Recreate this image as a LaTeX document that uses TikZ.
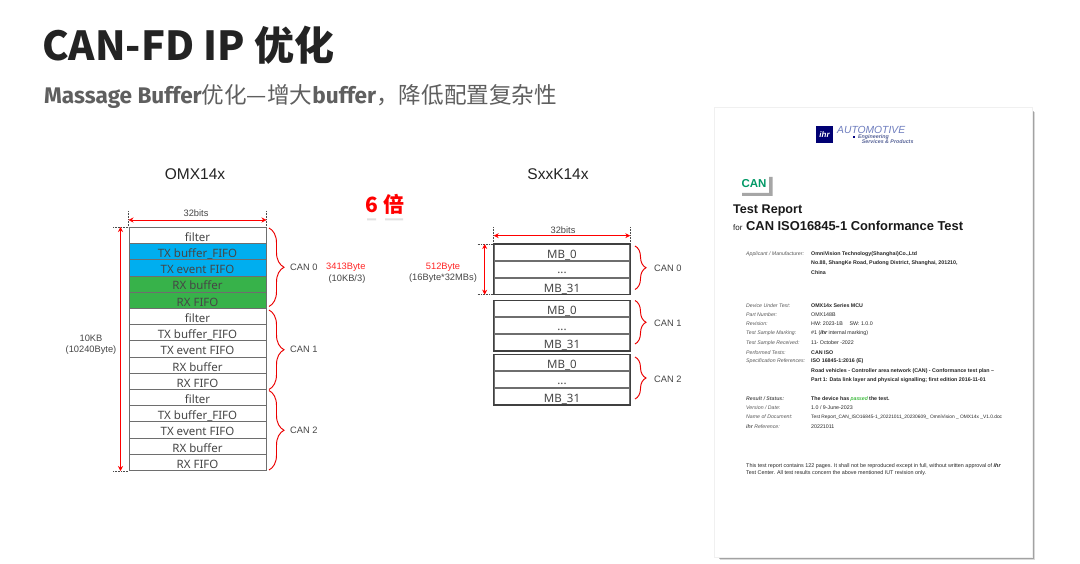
\documentclass[tikz,border=0pt]{standalone}
\usepackage{fontspec}
\usetikzlibrary{arrows.meta,decorations.pathreplacing}
\setmainfont{Liberation Sans}
\newfontfamily\cjk{Noto Sans CJK SC}
\newfontfamily\fira{Fira Sans}
\newfontfamily\noto{Noto Sans}
\newcommand{\fsz}[1]{\fontsize{#1}{#1}\selectfont}
\definecolor{tealblue}{RGB}{0,174,239}
\definecolor{leaf}{RGB}{55,178,74}
\definecolor{linegray}{RGB}{110,110,110}
\definecolor{rowtext}{RGB}{70,70,70}
\definecolor{inkb}{RGB}{35,35,35}
\definecolor{sub}{RGB}{95,95,95}
\definecolor{logoblue}{RGB}{110,125,190}
\tikzset{
 lbl/.style={inner sep=0pt,font=\fsz{9.3},text=rowtext,align=center},
 redlbl/.style={lbl,text=red!85!white},
 head/.style={inner sep=0pt,font=\fsz{15.5},text=inkb},
 rowbox/.style={draw=linegray,line width=1pt,minimum width=137pt,minimum height=16.2pt,inner sep=0pt,anchor=north west,font=\noto\fsz{11.5},text=rowtext,text height=11.6pt,text depth=0pt},
 mbbox/.style={rowbox,minimum width=135.6pt,minimum height=15.9pt},
 dim/.style={red,line width=0.7pt,{Stealth[length=5pt,width=5pt]}-{Stealth[length=5pt,width=5pt]}},
 ext/.style={black!70,line width=0.6pt,densely dotted},
 brc/.style={draw=red!92!black,line width=0.95pt,decorate,decoration={brace,amplitude=7pt,raise=0pt}},
 lab/.style={inner sep=0pt,anchor=west,font=\itshape\fsz{5.2},text=black!65},
 val/.style={inner sep=0pt,anchor=west,font=\bfseries\fsz{5.3},text=black!85},
}
\begin{document}
\begin{tikzpicture}[x=1pt,y=-1pt]
\useasboundingbox (0,0) rectangle (1080,564);
\fill[white] (0,0) rectangle (1080,564);
% titles
\node[inner sep=0pt,anchor=base west,text=inkb,font=\cjk\bfseries\fsz{40}] (title) at (42,61) {CAN-FD IP 优化};
\node[inner sep=0pt,anchor=base west,text=sub,font=\fsz{22.6}] (subtitle) at (44,104) {{\fira\bfseries Massage Buffer}{\cjk 优化—增大}{\fira\bfseries buffer}{\cjk ，降低配置复杂性}};
\node[head] (omx) at (195,174) {OMX14x};
\node[head] (sxx) at (558,174) {SxxK14x};
\node[inner sep=0pt,text=red,font=\cjk\bfseries\fsz{21}] (six) at (385,204.5) {6 倍};
\fill[black!12] (367,218.5) rectangle (376,220.5) (385,218.5) rectangle (403,220.5);
% OMX14x table
\foreach \i/\t/\c in {0/filter/white,1/TX buffer\_FIFO/tealblue,2/TX event FIFO/tealblue,3/RX buffer/leaf,4/RX FIFO/leaf,
 5/filter/white,6/TX buffer\_FIFO/white,7/TX event FIFO/white,8/RX buffer/white,9/RX FIFO/white,
 10/filter/white,11/TX buffer\_FIFO/white,12/TX event FIFO/white,13/RX buffer/white,14/RX FIFO/white}{
 \pgfmathsetmacro{\yy}{227+16.2*\i}
 \node[rowbox,fill=\c] (r\i) at (128.5,\yy) {\t};
}
\coordinate (tl) at ([yshift=16pt]r0.north west);
\coordinate (tr) at ([yshift=16pt]r0.north east);
\draw[ext] (tl) -- (r0.north west);
\draw[ext] (tr) -- (r0.north east);
\coordinate (wl) at ([yshift=7pt]r0.north west);
\coordinate (wr) at ([yshift=7pt]r0.north east);
\draw[dim] (wl) -- (wr);
\node[lbl] (bitsA) at (196,213.5) {32bits};
\coordinate (hl) at ([xshift=-15.5pt]r0.north west);
\coordinate (hb) at ([xshift=-15.5pt]r14.south west);
\draw[ext] (hl) -- (r0.north west);
\draw[ext] (hb) -- (r14.south west);
\draw[dim] ([xshift=7.5pt]hl) -- ([xshift=7.5pt]hb);
\node[lbl] (tenkb) at (91,344.5) {10KB\\[1.5pt](10240Byte)};
\coordinate (b0a) at (269,228); \coordinate (b0b) at (269,306.5);
\coordinate (b1a) at (269,310); \coordinate (b1b) at (269,389.5);
\coordinate (b2a) at (269,390.5); \coordinate (b2b) at (269,470);
\draw[brc,decoration={amplitude=15pt}] (b0a) -- (b0b);
\draw[brc,decoration={amplitude=15pt}] (b1a) -- (b1b);
\draw[brc,decoration={amplitude=15pt}] (b2a) -- (b2b);
\node[lbl,anchor=west] (can0a) at (290,267.5) {CAN 0};
\node[lbl,anchor=west] (can1a) at (290,349.5) {CAN 1};
\node[lbl,anchor=west] (can2a) at (290,430) {CAN 2};
\node[redlbl,anchor=west] (b3413) at (326,267.5) {3413Byte};
\node[lbl] (kb3) at (347,279) {(10KB/3)};
% SxxK14x tables
\foreach \g/\y in {0/244,1/300.3,2/354.3}{
 \node[mbbox] (m\g a) at (493.7,\y) {MB\_0};
 \node[mbbox,text height=9pt] (m\g b) at (m\g a.south west) {...};
 \node[mbbox] (m\g c) at (m\g b.south west) {MB\_31};
 \draw[black!75,line width=1.1pt] (m\g a.north west) rectangle (m\g c.south east);
}
\coordinate (s1) at ([yshift=17pt]m0a.north west);
\coordinate (s2) at ([yshift=17pt]m0a.north east);
\draw[ext] (s1) -- (m0a.north west);
\draw[ext] (s2) -- (m0a.north east);
\draw[dim] ([yshift=-8.7pt]s1) -- ([yshift=-8.7pt]s2);
\node[lbl] (bitsB) at (563,230) {32bits};
\coordinate (v1) at ([xshift=-16pt]m0a.north west);
\coordinate (v2) at ([xshift=-16pt]m0c.south west);
\draw[ext] (v1) -- (m0a.north west);
\draw[ext] (v2) -- (m0c.south west);
\draw[dim] ([xshift=7pt]v1) -- ([xshift=7pt]v2);
\node[redlbl] (b512) at (443,267) {512Byte};
\node[lbl] (mbs) at (443,278.5) {(16Byte*32MBs)};
\coordinate (c0a) at (635,246); \coordinate (c0b) at (635,289.5);
\coordinate (c1a) at (635,300.5); \coordinate (c1b) at (635,344);
\coordinate (c2a) at (635,357); \coordinate (c2b) at (635,399);
\draw[brc,decoration={amplitude=11pt}] (c0a) -- (c0b);
\draw[brc,decoration={amplitude=11pt}] (c1a) -- (c1b);
\draw[brc,decoration={amplitude=11pt}] (c2a) -- (c2b);
\node[lbl,anchor=west] (can0b) at (654,268.5) {CAN 0};
\node[lbl,anchor=west] (can1b) at (654,323) {CAN 1};
\node[lbl,anchor=west] (can2b) at (654,379) {CAN 2};
% report page
\foreach \o/\a in {3.5/0.15,2.5/0.25,1.5/0.4}{
 \fill[black,opacity=\a] (716+\o,109+\o) rectangle (1031+\o,556+\o);
}
\fill[white] (714,107) rectangle (1032,557);
\draw[black!6,line width=0.5pt] (714,107) rectangle (1032,557);
% logo
\node[fill=blue!45!black,text=white,inner sep=0pt,minimum width=17pt,minimum height=17pt,font=\bfseries\itshape\fsz{8}] (ihr) at (824.5,134.5) {ihr};
\node[inner sep=0pt,anchor=west,text=logoblue,font=\itshape\fsz{10.3}] (auto) at (837,129.5) {AUTOMOTIVE};
\fill[blue!50!black] (853,136) rectangle (855,138);
\node[inner sep=0pt,anchor=west,text=logoblue!80!black,font=\bfseries\itshape\fsz{5.3}] (eng) at (858,137) {Engineering};
\node[inner sep=0pt,anchor=west,text=logoblue!80!black,font=\bfseries\itshape\fsz{5.3}] (serv) at (861.7,141.7) {Services \& Products};
% CAN logo
\fill[black!35] (769,177) rectangle (772.5,196) (742,193) rectangle (772.5,196);
\node[inner sep=0pt,text=teal!80!green,font=\bfseries\fsz{11.5}] (canlogo) at (754,184) {CAN};
% report head
\node[inner sep=0pt,anchor=west,text=black!90,font=\bfseries\fsz{12.6}] (tr1) at (733,210.5) {Test Report};
\node[inner sep=0pt,anchor=west,text=black!90,font=\bfseries\fsz{12.9}] (tr2) at (733,225.5) {{\mdseries\fsz{8}for} CAN ISO16845-1 Conformance Test};
% report rows
\foreach \n/\y/\a/\b in {a/254/{Applicant / Manufacturer:}/OmniVision Technology(Shanghai)Co.{,}Ltd,
 b/263.5//No.88{,} ShangKe Road{,} Pudong District{,} Shanghai{,} 201210{,},
 c/272.5//China,
 d/305.5/Device Under Test:/OMX14x Series MCU,
 e/315/Part Number:/{\mdseries OMX148B},
 f/324/Revision:/{\mdseries HW: 2023-1B \quad SW: 1.0.0},
 g/333/Test Sample Marking:/{\mdseries \#1 ({\bfseries\itshape ihr} internal marking)},
 h/343/Test Sample Received:/{\mdseries 11- October -2022},
 i/352.5/Performed Tests:/CAN ISO,
 j/361.5/Specification References:/ISO 16845-1:2016 (E),
 k/371//Road vehicles - Controller area network (CAN) - Conformance test plan --,
 l/380.5//Part 1: Data link layer and physical signalling; first edition 2016-11-01,
 m/399/{\bfseries Result / Status:}/The device has {\color{green!65!black}\itshape\mdseries passed} the test.,
 n/408/{Version / Date:}/{\mdseries 1.0 / 9-June-2023},
 p/427/{\bfseries ihr} Reference:/{\mdseries 20221011}}{
 \node[lab] (la\n) at (746,\y) {\a};
 \node[val] (va\n) at (811,\y) {\b};
}
\node[lab] (lao) at (746,417) {Name of Document:};
\node[val,font=\fsz{4.85}] (vao) at (811,417) {Test Report\_CAN\_ISO16845-1\_20221011\_20230609\_ OmniVision \_ OMX14x \_V1.0.doc};
\node[inner sep=0pt,anchor=west,font=\fsz{5.4},text=black!85] (f1) at (746,465.7) {This test report contains 122 pages. It shall not be reproduced except in full, without written approval of {\bfseries\itshape ihr}};
\node[inner sep=0pt,anchor=west,font=\fsz{5.4},text=black!85] (f2) at (746,473.3) {Test Center. All test results concern the above mentioned IUT revision only.};
\end{tikzpicture}
\end{document}
